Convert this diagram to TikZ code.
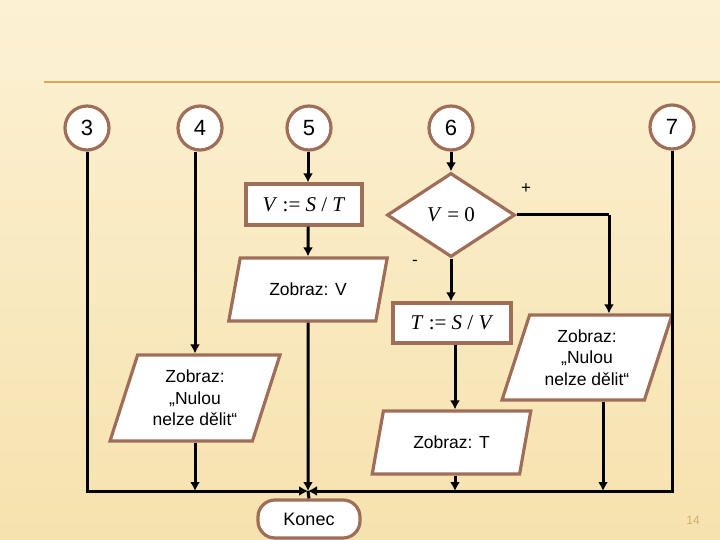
\documentclass[tikz,border=0pt]{standalone}
\usepackage{fontspec}
\setmainfont{Liberation Sans}
\newfontfamily\tms{Liberation Serif}
\newcommand{\mvar}[1]{\textit{#1}}
\usetikzlibrary{shapes.geometric,arrows.meta,calc}
\definecolor{bgtop}{HTML}{FCF1D3}
\definecolor{bgbot}{HTML}{F6E2AE}
\definecolor{rule}{HTML}{E2A44C}
\definecolor{brd}{HTML}{9E6E58}
\definecolor{pagenum}{HTML}{D2AF72}
\begin{document}
\begin{tikzpicture}[x=1pt,y=-1pt,
  box/.style={draw=brd, fill=white, line width=3.2pt},
  circ/.style={box, circle, minimum size=44pt, inner sep=0pt, font=\fontsize{22}{22}\selectfont},
  proc/.style={box, rectangle, inner sep=0pt, font=\tms\fontsize{21}{21}\selectfont},
  io/.style={box, trapezium, trapezium stretches=true, inner sep=0pt, align=center, font=\fontsize{17.5}{21.5}\selectfont},
  decis/.style={box, diamond, inner sep=0pt, minimum width=128pt, minimum height=84pt, font=\tms\fontsize{21}{21}\selectfont},
  term/.style={box, rectangle, rounded corners=17pt, minimum width=102pt, minimum height=38pt, inner sep=0pt, font=\fontsize{18}{18}\selectfont},
  arr/.style={line width=3pt, -{Latex[length=9pt,width=10pt]}},
  ln/.style={line width=3pt},
  lbl/.style={font=\fontsize{17}{17}\selectfont, inner sep=0pt}]
\useasboundingbox (0,0) rectangle (720,540);
% background
\shade[top color=bgtop, bottom color=bgbot] (0,0) rectangle (720,540);
\fill[bgtop, opacity=0.6] (0,0) rectangle (720,82);
\draw[rule, line width=1.5pt] (44,82) -- (720,82);

% connector circles
\node[circ] (c3) at (87,128) {3};
\node[circ] (c4) at (200,128) {4};
\node[circ] (c5) at (309,128) {5};
\node[circ] (c6) at (451,128) {6};
\node[circ] (c7) at (672,127) {7};

% blocks
\node[proc, minimum width=116pt, minimum height=41pt] (r1) at (304,204.5) {\mvar{V} := \mvar{S} / \mvar{T}};
\node[io, trapezium left angle=63, trapezium right angle=117, minimum width=159pt, minimum height=63pt] (zv) at (308,289.5) {Zobraz: V};
\node[decis] (dec) at (451,215) {\mvar{V} = 0};
\node[proc, minimum width=118pt, minimum height=40pt] (r2) at (452,323) {\mvar{T} := \mvar{S} / \mvar{V}};
\node[io, trapezium left angle=64, trapezium right angle=116, minimum width=159pt, minimum height=63pt] (zt) at (451.5,442.5) {Zobraz: T};
\node[io, trapezium left angle=70, trapezium right angle=110, minimum width=170pt, minimum height=86pt] (lp) at (195,398) {Zobraz:\\„Nulou\\nelze dělit“};
\node[io, trapezium left angle=70, trapezium right angle=110, minimum width=170pt, minimum height=85pt] (rp) at (587,357.5) {Zobraz:\\„Nulou\\nelze dělit“};
\node[term] (konec) at (309,519) {Konec};

\node[lbl] (plus) at (526,189) {+};
\node[lbl] (minus) at (415,263) {-};
\node[font=\fontsize{12}{12}\selectfont, text=pagenum] (pg) at (693,520) {14};

% coordinates
\coordinate (junc) at (308,491);
\coordinate (bend) at (609,215);

% connectors
\draw[arr] (c5.south -| 308,0) -- (308,0 |- r1.north);
\draw[arr] (r1.south -| 308,0) -- (zv.north);
\draw[arr] (zv.south) -- (junc);
\draw[arr] (c6.south) -- (dec.north);
\draw[arr] (dec.south) -- (r2.north -| dec.south);
\draw[ln] (dec.east) -- (bend);
\draw[arr] (bend) -- (bend |- rp.north);
\draw[arr] (r2.south -| 455,0) -- (455,0 |- zt.north);
\draw[arr] (zt.south -| 455,0) -- (455,0 |- junc);
\draw[arr] (rp.south -| 603,0) -- (603,0 |- junc);
\draw[arr] (c4.south -| lp.north) -- (lp.north);
\draw[arr] (lp.south) -- (lp.south |- junc);
\draw[arr] (c3.south) |- (junc);
\draw[arr] (c7.south) |- (junc);
\draw[ln] (junc) -- (konec.north);
\end{tikzpicture}
\end{document}
